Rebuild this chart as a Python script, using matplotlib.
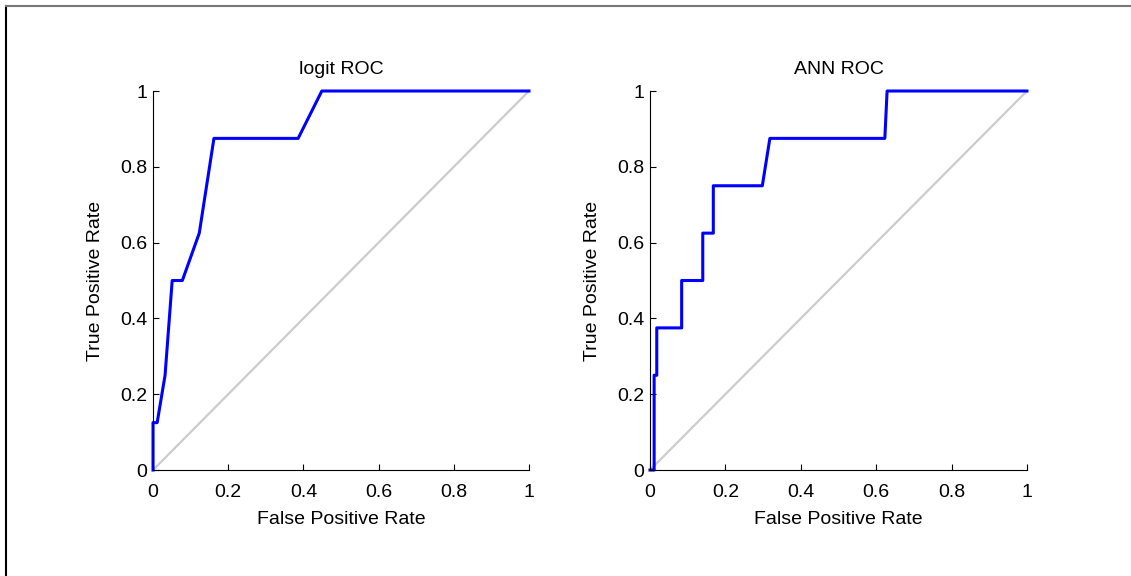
import numpy as np
import matplotlib
matplotlib.use("Agg")
import matplotlib.pyplot as plt
from matplotlib.lines import Line2D

plt.rcParams['font.family'] = ['Liberation Sans', 'DejaVu Sans']

# ROC points
logit_fpr = [0.0, 0.0, 0.011, 0.032, 0.051, 0.078, 0.123, 0.162, 0.386, 0.449, 1.0]
logit_tpr = [0.0, 0.125, 0.125, 0.25, 0.5, 0.5, 0.625, 0.875, 0.875, 1.0, 1.0]

ann_fpr = [0.0, 0.011, 0.011, 0.018, 0.018, 0.084, 0.084, 0.14, 0.14, 0.168, 0.168, 0.298, 0.318, 0.623, 0.629, 1.0]
ann_tpr = [0.0, 0.0, 0.25, 0.25, 0.375, 0.375, 0.5, 0.5, 0.625, 0.625, 0.75, 0.75, 0.875, 0.875, 1.0, 1.0]

ticks = [0, 0.2, 0.4, 0.6, 0.8, 1]
tick_labels = ['0', '0.2', '0.4', '0.6', '0.8', '1']


def roc_axes(fig, rect, fpr, tpr, title):
    ax = fig.add_axes(rect)
    ax.plot([0, 1], [0, 1], color='#cccccc', linewidth=1.6, zorder=1)
    ax.plot(fpr, tpr, color='#0000ff', linewidth=2.2, zorder=2, clip_on=False)
    ax.set_xlim(0, 1)
    ax.set_ylim(0, 1)
    ax.set_xticks(ticks)
    ax.set_xticklabels(tick_labels)
    ax.set_yticks(ticks)
    ax.set_yticklabels(tick_labels)
    ax.spines['top'].set_visible(False)
    ax.spines['right'].set_visible(False)
    for s in ('left', 'bottom'):
        ax.spines[s].set_linewidth(0.8)
    ax.tick_params(direction='in', length=4.5, width=0.8, labelsize=14)
    ax.tick_params(axis='x', pad=10)
    ax.tick_params(axis='y', pad=4)
    ax.set_xlabel('False Positive Rate', fontsize=14, labelpad=7)
    ax.set_ylabel('True Positive Rate', fontsize=14, labelpad=12)
    ax.set_title(title, fontsize=14, pad=12)
    return ax


fig = plt.figure(figsize=(11.31, 5.76), dpi=100)
roc_axes(fig, [0.1353, 0.184, 0.3324, 0.658], logit_fpr, logit_tpr, 'logit ROC')
roc_axes(fig, [0.5747, 0.184, 0.3333, 0.658], ann_fpr, ann_tpr, 'ANN ROC')

# frame edges visible at top and left of the screenshot
fig.add_artist(Line2D([0.0053, 0.0053], [0, 0.99], color='black', linewidth=1.5, transform=fig.transFigure))
fig.add_artist(Line2D([0.0053, 1], [0.99, 0.99], color='#777777', linewidth=1.5, transform=fig.transFigure))

fig.savefig('out.png', dpi=100)
